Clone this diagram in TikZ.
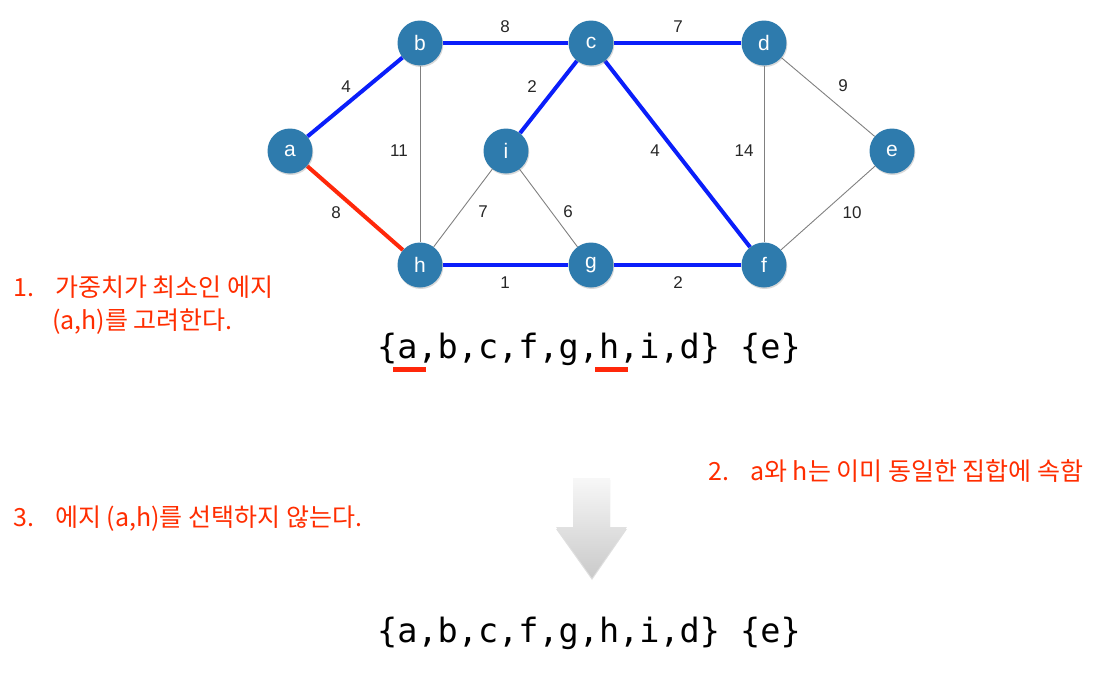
\documentclass[tikz,border=0pt]{standalone}
\usepackage{fontspec}
\setmainfont{Liberation Sans}
\setmonofont{DejaVu Sans Mono}
\newfontfamily\krfont{Noto Sans CJK KR}
\usepackage{xcolor}
\usetikzlibrary{positioning, shadows, backgrounds}

\definecolor{vtx}{RGB}{46,123,173}
\definecolor{mstblue}{RGB}{10,30,250}
\definecolor{hlred}{RGB}{255,40,10}
\definecolor{notered}{RGB}{255,45,0}

\newcommand\redbar[1]{\makebox[0pt][l]{\hspace{-4pt}\textcolor{hlred}{\rule[-14pt]{33pt}{5pt}}}#1}

\tikzset{
  vertex/.style={circle, fill=vtx, minimum size=45pt, inner sep=0pt, text=white,
    font=\fontsize{21}{21}\selectfont,
    drop shadow={opacity=0.3, shadow xshift=0.8pt, shadow yshift=-1.5pt}},
  tree/.style={draw=mstblue, line width=4pt},
  chosen/.style={draw=hlred, line width=4pt},
  plain/.style={draw=gray, line width=0.9pt},
  wt/.style={font=\fontsize{17}{17}\selectfont, text=black!85},
  note/.style={text=notered, font=\krfont\fontsize{25}{33}\selectfont, anchor=base west,
    align=left, inner sep=0pt},
  setline/.style={font=\ttfamily\fontsize{33.5}{33.5}\selectfont, anchor=base west, inner sep=0pt},
  bigarrow/.style={top color=gray!6, bottom color=gray!42,
    drop shadow={opacity=0.25, shadow xshift=0pt, shadow yshift=-2pt}}
}

\begin{document}
\begin{tikzpicture}[x=1pt, y=-1pt]
  \useasboundingbox (0,0) rectangle (1116,699);

  % vertices
  \node[vertex] (a) at (290,151) {a};
  \node[vertex] (b) at (420,43) {b};
  \node[vertex] (c) at (591,43) {c};
  \node[vertex] (d) at (764,43) {d};
  \node[vertex] (e) at (892,151) {e};
  \node[vertex] (i) at (506,151) {i};
  \node[vertex] (h) at (420,265) {h};
  \node[vertex] (g) at (591,265) {g};
  \node[vertex] (f) at (764,265) {f};

  % edges
  \begin{scope}[on background layer]
    \draw[tree] (a) -- (b);
    \draw[tree] (b) -- (c);
    \draw[tree] (c) -- (d);
    \draw[tree] (c) -- (i);
    \draw[tree] (c) -- (f);
    \draw[tree] (h) -- (g);
    \draw[tree] (g) -- (f);
    \draw[chosen] (a) -- (h);
    \draw[plain] (b) -- (h);
    \draw[plain] (i) -- (h);
    \draw[plain] (i) -- (g);
    \draw[plain] (d) -- (f);
    \draw[plain] (d) -- (e);
    \draw[plain] (e) -- (f);
  \end{scope}

  % weights
  \node[wt] (wab) at (346,87) {4};
  \node[wt] (wbc) at (505,27) {8};
  \node[wt] (wcd) at (678,27) {7};
  \node[wt] (wah) at (336,213) {8};
  \node[wt] (wbh) at (399,151) {11};
  \node[wt] (wci) at (532,87) {2};
  \node[wt] (whi) at (483,212) {7};
  \node[wt] (wig) at (568,212) {6};
  \node[wt] (whg) at (505,283) {1};
  \node[wt] (wgf) at (678,283) {2};
  \node[wt] (wcf) at (655,151) {4};
  \node[wt] (wdf) at (744,151) {14};
  \node[wt] (wde) at (843,86) {9};
  \node[wt] (wef) at (852,213) {10};

  % sets
  \node[setline] (s1) at (377,358) {\{\redbar{a},b,c,f,g,\redbar{h},i,d\} \{e\}};
  \node[setline] (s2) at (377,642) {\{a,b,c,f,g,h,i,d\} \{e\}};
  \path[bigarrow] (573,478) -- (610,478) -- (610,527) -- (627,527) -- (592,578)
    -- (556,527) -- (573,527) -- cycle;

  % notes
  \node[note] (n1) at (13,329) {\makebox[42pt][l]{1.}가중치가 최소인 에지\\\hspace*{39pt}(a,h)를 고려한다.};
  \node[note] (n2) at (708,480) {\makebox[42pt][l]{2.}a와 h는 이미 동일한 집합에 속함};
  \node[note] (n3) at (13,526) {\makebox[42pt][l]{3.}에지 (a,h)를 선택하지 않는다.};
\end{tikzpicture}
\end{document}
